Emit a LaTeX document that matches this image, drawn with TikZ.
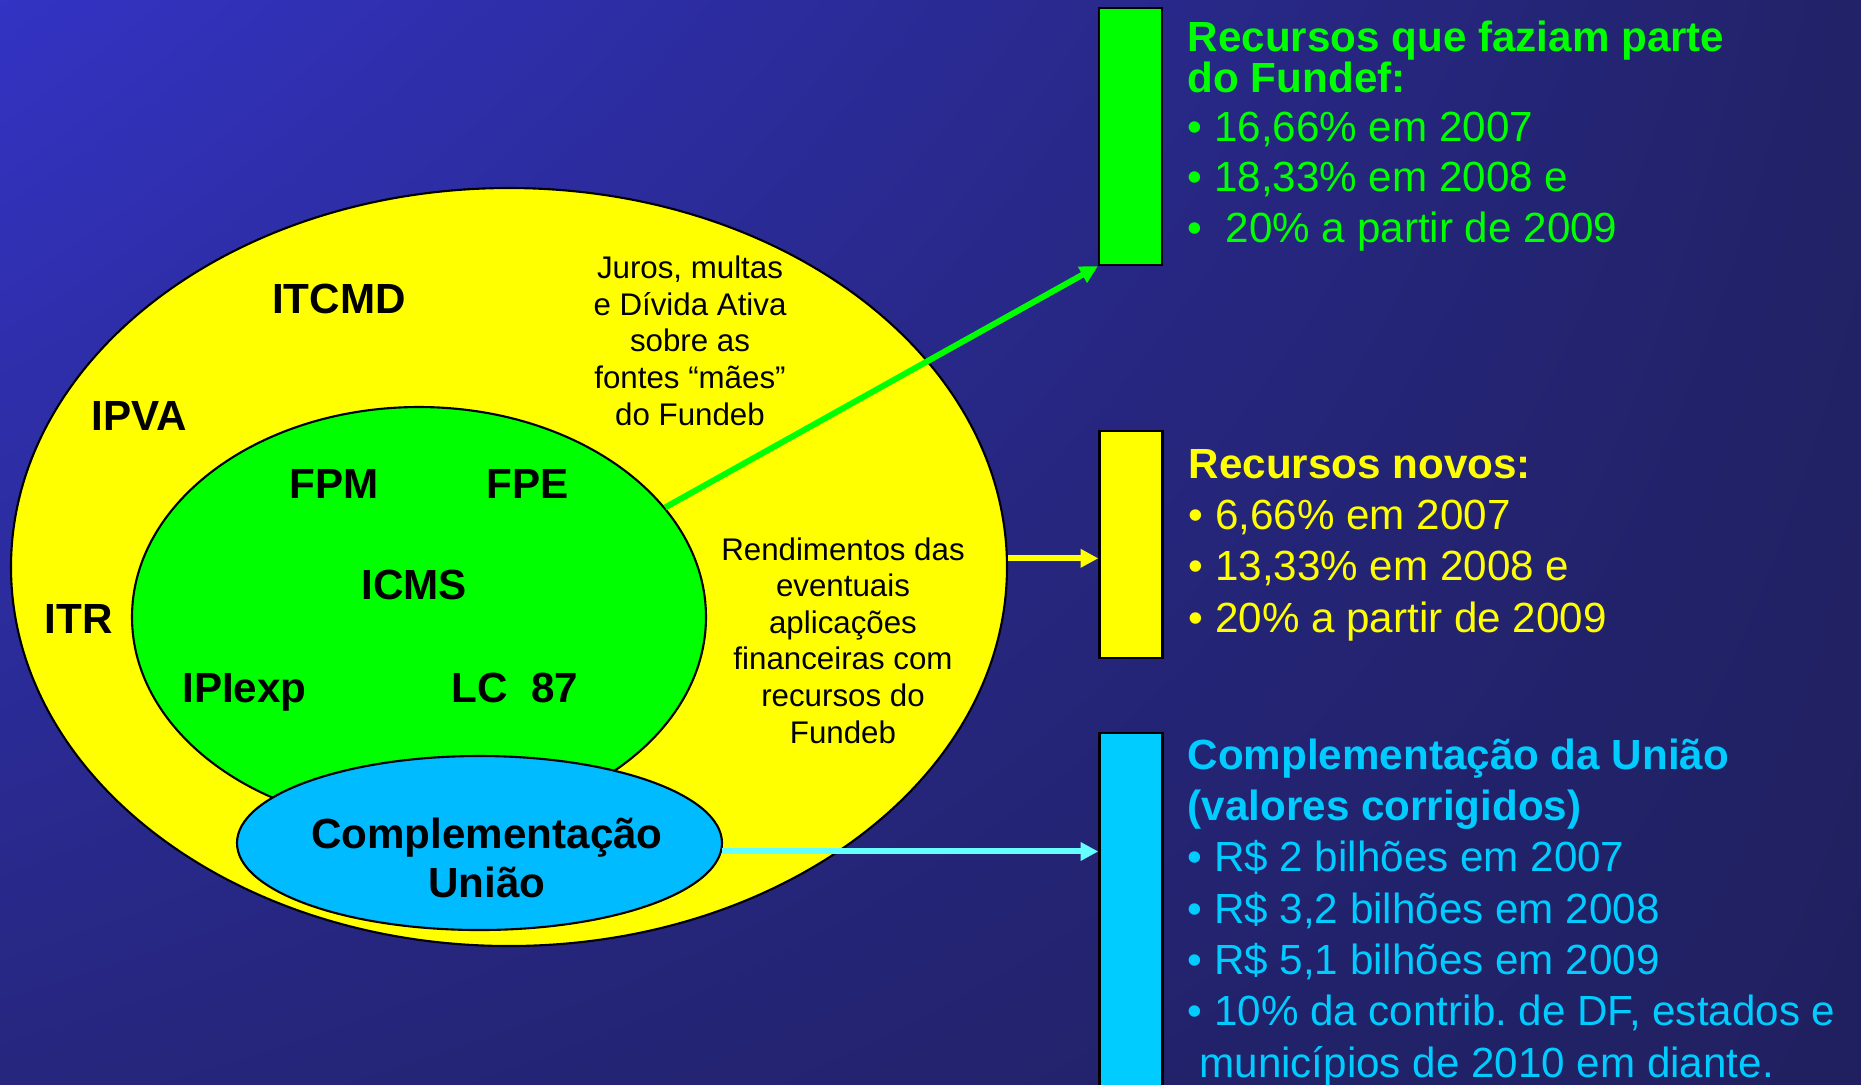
\documentclass[tikz,border=0pt]{standalone}
\usepackage{fontspec}
\setmainfont{Liberation Sans}
\usetikzlibrary{shapes.geometric}
\usetikzlibrary{arrows.meta}
\usetikzlibrary{shadings}
\usetikzlibrary{calc}

\definecolor{fundoA}{RGB}{51,51,196}
\definecolor{fundoB}{RGB}{34,34,104}
\definecolor{fundoC}{RGB}{38,38,126}
\definecolor{fundoD}{RGB}{32,32,96}
\definecolor{verde}{RGB}{0,255,0}
\definecolor{amarelo}{RGB}{255,255,0}
\definecolor{azul}{RGB}{0,187,255}
\definecolor{ciano}{RGB}{0,204,255}
\definecolor{cianoclaro}{RGB}{102,255,255}

\tikzset{
  elipse/.style={ellipse, draw=black, line width=0.6pt, inner sep=0pt},
  imposto/.style={font=\fontsize{12pt}{14pt}\selectfont\bfseries, anchor=base, inner sep=0pt},
  nota/.style={font=\fontsize{8.9pt}{10.4pt}\selectfont, align=center, anchor=base, inner sep=0pt},
  barra/.style={draw=black, line width=0.7pt, minimum width=0.63cm, inner sep=0pt},
  info/.style={font=\fontsize{12pt}{14.6pt}\selectfont, align=left, anchor=base west, inner sep=0pt},
  seta/.style={line width=1.7pt, -{Triangle[length=5pt,width=5pt]}}
}

\begin{document}
\begin{tikzpicture}
        \useasboundingbox (0,0) rectangle (18.61,-10.84);
        \shade[upper left=fundoA, upper right=fundoB, lower left=fundoC, lower right=fundoD] (0,0) rectangle (18.61,-10.84);

        % elipses
        \node[elipse, fill=amarelo, minimum width=9.96cm, minimum height=7.58cm] (estaduais) at (5.09,-5.67) {};
        \node[elipse, fill=verde, minimum width=5.74cm, minimum height=4.20cm] (fundef) at (4.19,-6.17) {};
        \node[elipse, fill=azul, minimum width=4.85cm, minimum height=1.74cm] (uniao) at (4.795,-8.43) {};

        \node[imposto] (itcmd) at (3.39,-3.13) {ITCMD};
        \node[imposto] (ipva) at (1.395,-4.30) {IPVA};
        \node[imposto] (itr) at (0.785,-6.33) {ITR};
        \node[imposto] (fpm) at (3.34,-4.98) {FPM};
        \node[imposto] (fpe) at (5.28,-4.98) {FPE};
        \node[imposto] (icms) at (4.14,-5.99) {ICMS};
        \node[imposto] (ipiexp) at (2.445,-7.02) {IPIexp};
        \node[imposto] (lc) at (5.15,-7.02) {LC\ \ 87};
        % base = last line of the multi-line nodes
        \node[imposto, align=center, font=\fontsize{12pt}{13.7pt}\selectfont\bfseries] (txtuniao) at (4.87,-8.97) {Complementação\\União};

        \node[nota] (juros) at (6.90,-4.25) {Juros, multas\\e Dívida Ativa\\sobre as\\fontes “mães”\\do Fundeb};
        \node[nota] (rend) at (8.43,-7.43) {Rendimentos das\\eventuais\\aplicações\\financeiras com\\recursos do\\Fundeb};

        % barras
        \node[barra, fill=verde, minimum height=2.57cm] (barfundef) at (11.305,-1.365) {};
        \node[barra, fill=amarelo, minimum height=2.27cm] (barnovos) at (11.31,-5.445) {};
        \node[barra, fill=ciano, minimum height=3.62cm] (barcompl) at (11.31,-9.14) {};

        \node[info, text=verde] (txtfundef) at (11.87,-2.42) {\textbf{Recursos que faziam parte}\\[-2.9pt]\textbf{do Fundef:}\\[-0.7pt]• 16,66\% em 2007\\[-0.3pt]• 18,33\% em 2008 e\\[-0.3pt]• \ 20\% a partir de 2009};
        \node[info, text=amarelo] (txtnovos) at (11.88,-6.32) {\textbf{Recursos novos:}\\• 6,66\% em 2007\\• 13,33\% em 2008 e\\• 20\% a partir de 2009};
        \node[info, text=ciano] (txtcompl) at (11.87,-10.77) {\textbf{Complementação da União}\\\textbf{(valores corrigidos)}\\• R\$ 2 bilhões em 2007\\• R\$ 3,2 bilhões em 2008\\• R\$ 5,1 bilhões em 2009\\• 10\% da contrib.\ de DF, estados e\\\ municípios de 2010 em diante.};

        % setas
        \draw[seta, color=verde] (fundef.24.7) -- (barfundef.south west);
        \draw[seta, color=amarelo] (estaduais.1.7) -- (estaduais.1.7 -| barnovos.west);
        \draw[seta, color=cianoclaro] (uniao.-2.6) -- (uniao.-2.6 -| barcompl.west);

\end{tikzpicture}
\end{document}
